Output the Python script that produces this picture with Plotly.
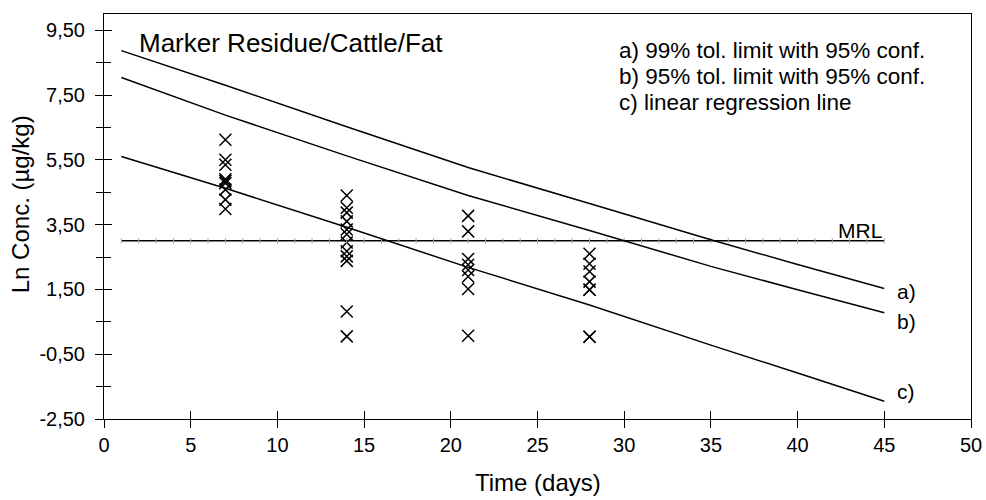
import plotly.graph_objects as go

# ---- data ----
day7 = [6.12, 5.50, 5.35, 4.90, 4.85, 4.78, 4.58, 4.27, 3.98]
day14 = [4.40, 4.02, 3.87, 3.60, 3.35, 3.20, 2.95, 2.68, 2.52, 2.38, 0.82, 0.05]
day21 = [3.77, 3.29, 2.44, 2.26, 2.10, 1.90, 1.51, 0.07]
day28 = [2.60, 2.29, 2.05, 1.74, 1.49, 1.49, 0.04, 0.04]

line_days = [1, 7, 14, 21, 28, 35, 40, 45]
limit_99 = [8.87, 7.80, 6.52, 5.26, 4.15, 3.03, 2.27, 1.53]
limit_95 = [8.04, 6.88, 5.62, 4.40, 3.32, 2.21, 1.49, 0.78]
regression = [5.60, 4.62, 3.42, 2.18, 1.02, -0.22, -1.08, -1.95]

mrl_value = 3.0
mrl_days = list(range(1, 46))

x_ticks = [0, 5, 10, 15, 20, 25, 30, 35, 40, 45, 50]
y_ticks = [-2.5, -0.5, 1.5, 3.5, 5.5, 7.5, 9.5]
y_tick_labels = ["-2,50", "-0,50", "1,50", "3,50", "5,50", "7,50", "9,50"]
y_minor = [-1.5, 0.5, 2.5, 4.5, 6.5, 8.5]

title_text = "Marker Residue/Cattle/Fat"
legend_lines = ["a) 99% tol. limit with 95% conf.",
                "b) 95% tol. limit with 95% conf.",
                "c) linear regression line"]
end_labels = ["a)", "b)", "c)"]

FONT = "Liberation Sans, Arial, sans-serif"
X_RANGE = [0, 50]
Y_RANGE = [-2.5, 10.0]

fig = go.Figure()

# scatter data
sx, sy = [], []
for d, vals in [(7, day7), (14, day14), (21, day21), (28, day28)]:
    sx += [d] * len(vals)
    sy += vals
fig.add_trace(go.Scatter(x=sx, y=sy, mode="markers",
                         marker=dict(symbol="x-thin-open", size=12, color="black",
                                     line=dict(color="black", width=1.5)),
                         showlegend=False, hoverinfo="skip"))

# MRL line with small ticks
fig.add_trace(go.Scatter(x=mrl_days, y=[mrl_value] * len(mrl_days), mode="lines+markers",
                         line=dict(color="black", width=1.5),
                         marker=dict(symbol="line-ns-open", size=4, color="#aaaaaa",
                                     line=dict(color="#aaaaaa", width=1)),
                         showlegend=False, hoverinfo="skip"))

for ys in (limit_99, limit_95, regression):
    fig.add_trace(go.Scatter(x=line_days, y=ys, mode="lines",
                             line=dict(color="black", width=1.5),
                             showlegend=False, hoverinfo="skip"))

# dummy trace to create overlay axes for inside ticks
fig.add_trace(go.Scatter(x=[0], y=[0], xaxis="x2", yaxis="y2", mode="markers",
                         marker=dict(opacity=0), showlegend=False, hoverinfo="skip"))

axis_common = dict(showgrid=False, zeroline=False, color="black", automargin=False,
                   tickfont=dict(family=FONT, size=20, color="black"))

fig.update_layout(
    width=986, height=500,
    margin=dict(l=104, r=15, t=14, b=81, autoexpand=False),
    paper_bgcolor="white", plot_bgcolor="white",
    font=dict(family=FONT, color="black"),
    xaxis=dict(range=X_RANGE, tickvals=x_ticks, ticks="outside", ticklen=8,
               tickwidth=1, tickcolor="black", showline=True, linecolor="black",
               linewidth=1, mirror=True, **axis_common),
    yaxis=dict(range=Y_RANGE, tickvals=y_ticks, ticktext=y_tick_labels, ticks="outside",
               ticklen=8, tickwidth=1, tickcolor="black", showline=True,
               linecolor="black", linewidth=1, mirror=True, ticklabelstandoff=6,
               minor=dict(tickvals=y_minor, ticks="outside",
                          ticklen=7, tickcolor="black", tickwidth=1),
               **axis_common),
    xaxis2=dict(range=X_RANGE, overlaying="x", anchor="y2", side="bottom",
                automargin=False,
                tickvals=x_ticks, ticks="inside", ticklen=8, tickcolor="black",
                showticklabels=False, showgrid=False, zeroline=False, showline=False),
    yaxis2=dict(range=Y_RANGE, overlaying="y", anchor="x2", side="left",
                automargin=False,
                tickvals=y_ticks, ticks="inside", ticklen=8, tickcolor="black",
                showticklabels=False, showgrid=False, zeroline=False, showline=False,
                minor=dict(tickvals=y_minor, ticks="inside",
                           ticklen=7, tickcolor="black")),
)

ann = []
ann.append(dict(x=1.9, y=9.12, xref="x", yref="y", text=title_text, showarrow=False,
                xanchor="left", yanchor="middle", font=dict(size=26)))
for txt, yv in zip(legend_lines, [8.86, 8.07, 7.28]):
    ann.append(dict(x=29.6, y=yv, xref="x", yref="y", text=txt, showarrow=False,
                    xanchor="left", yanchor="middle", font=dict(size=22.5)))
for txt, yv in zip(end_labels, [1.43, 0.51, -1.66]):
    ann.append(dict(x=45.6, y=yv, xref="x", yref="y", text=txt, showarrow=False,
                    xanchor="left", yanchor="middle", font=dict(size=21)))
ann.append(dict(x=45, y=mrl_value, xref="x", yref="y", text="MRL", showarrow=False,
                xanchor="right", yanchor="bottom", yshift=-3, font=dict(size=21)))
ann.append(dict(x=0.5, y=-0.158, xref="paper", yref="paper", text="Time (days)",
                showarrow=False, xanchor="center", yanchor="middle", font=dict(size=24)))
ann.append(dict(x=-0.097, y=0.53, xref="paper", yref="paper", text="Ln Conc. (µg/kg)",
                showarrow=False, textangle=-90, xanchor="center", yanchor="middle",
                font=dict(size=24)))
fig.update_layout(annotations=ann)

fig.write_html("out.html", config={"displayModeBar": False},
               post_script="document.body.style.margin='0';document.body.style.overflow='hidden';")
